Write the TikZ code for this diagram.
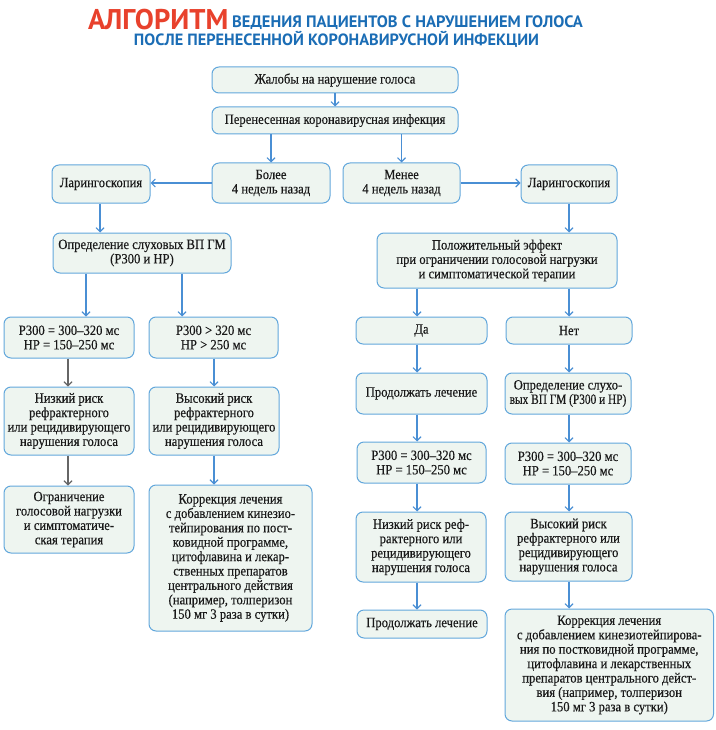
\documentclass[tikz,border=0pt]{standalone}
\usepackage{fontspec}
\setmainfont{Liberation Serif}[FakeStretch=0.89,FakeBold=0.3]
\newfontfamily\narrowser{Liberation Serif}[FakeStretch=0.8,FakeBold=0.3]
\newfontfamily\titlefont{PT Sans}
\usetikzlibrary{arrows.meta}
\definecolor{boxfill}{HTML}{EEF5F0}
\definecolor{boxdraw}{HTML}{62A7DC}
\definecolor{arrblue}{HTML}{4A8FD4}
\definecolor{arrgrey}{HTML}{666666}
\definecolor{titlered}{HTML}{E8412C}
\definecolor{titleblue}{HTML}{1B6DB5}
\tikzset{
 box/.style={draw=boxdraw, fill=boxfill, line width=1pt, rounded corners=7pt, align=center, inner sep=2pt, font=\fontsize{14.2}{14.4}\selectfont, text=black!90},
 arr/.style={draw=arrblue, line width=1.1pt, -{Straight Barb[length=4pt,width=8pt]}},
 garr/.style={arr, draw=arrgrey},
 ttl/.style={inner sep=0pt},
}
\newcommand\bx[6]{\node[box, minimum width={#4-#2}, minimum height={#5-#3}] (#1) at ({(#2+#4)/2},{(#3+#5)/2}) {#6};}
\begin{document}
\begin{tikzpicture}[x=1pt,y=-1pt]
\useasboundingbox (0,0) rectangle (715,730);
% title
\node[ttl, anchor=base west, font=\titlefont\bfseries\fontsize{28.5}{28.5}\selectfont, text=titlered] (t1) at (88,29.5) {АЛГОРИТМ};
\node[ttl, anchor=base west, font=\titlefont\bfseries\fontsize{16.5}{16.5}\selectfont, text=titleblue] (t2) at (232,27.5) {ВЕДЕНИЯ ПАЦИЕНТОВ С НАРУШЕНИЕМ ГОЛОСА};
\node[ttl, anchor=base, font=\titlefont\bfseries\fontsize{16.3}{16.3}\selectfont, text=titleblue] (t3) at (336.5,45.5) {ПОСЛЕ ПЕРЕНЕСЕННОЙ КОРОНАВИРУСНОЙ ИНФЕКЦИИ};
% boxes
\bx{zh}{212}{67}{458}{93}{Жалобы на нарушение голоса}
\bx{per}{212}{107}{458}{134}{Перенесенная коронавирусная инфекция}
\bx{bol}{212}{163}{330}{203}{Более\\4 недель назад}
\bx{men}{343}{163}{460}{203}{Менее\\4 недель назад}
\bx{lar1}{52}{165}{150}{203}{Ларингоскопия}
\bx{lar2}{521}{165}{617}{203}{Ларингоскопия}
\bx{opr1}{53}{233}{231}{273}{Определение слуховых ВП ГМ\\(P300 и НР)}
\bx{pol}{377}{233}{617}{288}{Положительный эффект\\при ограничении голосовой нагрузки\\и симптоматической терапии}
\bx{p1}{4}{317}{134}{358}{P300 = 300–320 мс\\НР = 150–250 мс}
\bx{p2}{149}{317}{278}{358}{P300 > 320 мс\\НР > 250 мс}
\bx{da}{356}{317}{487}{344}{Да}
\bx{net}{506}{317}{632}{344}{Нет}
\bx{niz1}{4}{387}{134}{455}{Низкий риск\\рефрактерного\\или рецидивирующего\\нарушения голоса}
\bx{vys1}{149}{387}{279}{455}{Высокий риск\\рефрактерного\\или рецидивирующего\\нарушения голоса}
\bx{prod1}{356}{373}{487}{414}{Продолжать лечение}
\bx{opr2}{505}{373}{631}{414}{Определение слухо-\\{\narrowser вых ВП ГМ (P300 и НР)}}
\bx{p3}{357}{442}{486}{483}{P300 = 300–320 мс\\НР = 150–250 мс}
\bx{p4}{505}{443}{631}{484}{P300 = 300–320 мс\\НР = 150–250 мс}
\bx{ogr}{4}{486}{134}{553}{Ограничение\\голосовой нагрузки\\и симптоматиче-\\ская терапия}
\bx{kor1}{149}{485}{312}{631}{Коррекция лечения\\с добавлением кинезио-\\тейпирования по пост-\\ковидной программе,\\цитофлавина и лекар-\\ственных препаратов\\центрального действия\\(например, толперизон\\150 мг 3 раза в сутки)}
\bx{niz2}{356}{512}{486}{582}{Низкий риск реф-\\рактерного или\\рецидивирующего\\нарушения голоса}
\bx{vys2}{505}{512}{632}{581}{Высокий риск\\рефрактерного или\\рецидивирующего\\нарушения голоса}
\bx{prod2}{357}{610}{487}{638}{Продолжать лечение}
\bx{kor2}{505}{609}{713.5}{721}{Коррекция лечения\\с добавлением кинезиотейпирова-\\ния по постковидной программе,\\цитофлавина и лекарственных\\препаратов центрального дейст-\\вия (например, толперизон\\150 мг 3 раза в сутки)}
% column coordinates
\coordinate (cA) at (86,0);
\coordinate (cB) at (182,0);
\coordinate (cC) at (68,0);
\coordinate (cD) at (214,0);
\coordinate (cE) at (417,0);
\coordinate (cF) at (569,0);
\coordinate (cG) at (100,0);
% connectors
\draw[arr] (zh.south) -- (per.north);
\draw[arr] (bol.north |- per.south) -- (bol.north);
\draw[arr] (men.north |- per.south) -- (men.north);
\draw[arr] (bol.west) -- (lar1.east |- bol.west);
\draw[arr] (men.east) -- (lar2.west |- men.east);
\draw[arr] (lar1.south -| cG) -- (opr1.north -| cG);
\draw[arr] (lar2.south -| cF) -- (pol.north -| cF);
\draw[arr] (opr1.south -| cA) -- (p1.north -| cA);
\draw[arr] (opr1.south -| cB) -- (p2.north -| cB);
\draw[garr] (p1.south -| cC) -- (niz1.north -| cC);
\draw[garr] (niz1.south -| cC) -- (ogr.north -| cC);
\draw[arr] (p2.south -| cD) -- (vys1.north -| cD);
\draw[arr] (vys1.south -| cD) -- (kor1.north -| cD);
\draw[arr] (pol.south -| cE) -- (da.north -| cE);
\draw[arr] (pol.south -| cF) -- (net.north -| cF);
\draw[arr] (da.south -| cE) -- (prod1.north -| cE);
\draw[arr] (prod1.south -| cE) -- (p3.north -| cE);
\draw[arr] (p3.south -| cE) -- (niz2.north -| cE);
\draw[arr] (niz2.south -| cE) -- (prod2.north -| cE);
\draw[arr] (net.south -| cF) -- (opr2.north -| cF);
\draw[arr] (opr2.south -| cF) -- (p4.north -| cF);
\draw[arr] (p4.south -| cF) -- (vys2.north -| cF);
\draw[arr] (vys2.south -| cF) -- (kor2.north -| cF);
\end{tikzpicture}
\end{document}
